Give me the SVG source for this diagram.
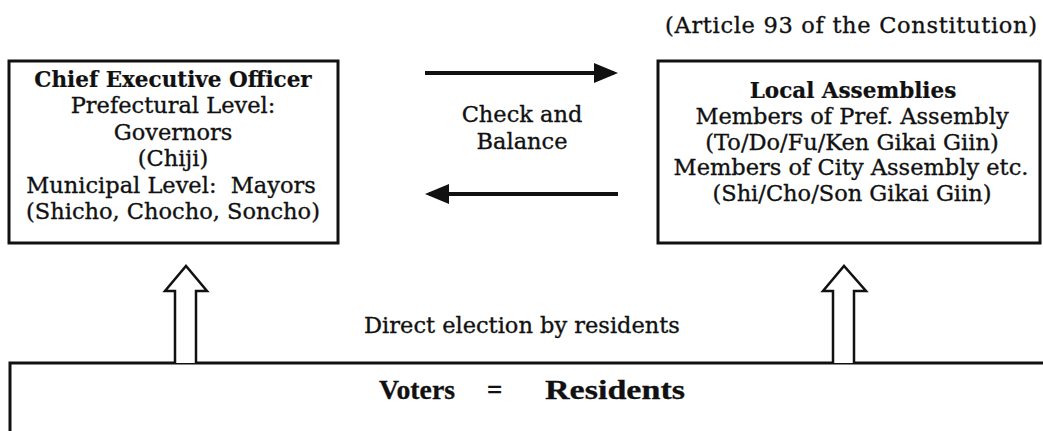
<svg xmlns="http://www.w3.org/2000/svg" width="1043" height="431" viewBox="0 0 1043 431">
<style>
  text { font-family: "DejaVu Serif", "Liberation Serif", serif; font-size: 22.5px; fill: #111; stroke: #111; stroke-width: 0.35; text-anchor: middle; }
  .b { font-weight: bold; font-size: 21.5px; stroke-width: 0.2; }
  .pre { white-space: pre; }
  .box { fill: #fff; stroke: #111; stroke-width: 3; }
  .line { stroke: #111; stroke-width: 4; fill: none; }
  .hollow { fill: #fff; stroke: #111; stroke-width: 2.5; stroke-linejoin: miter; }
  .vr { font-family: "Liberation Serif", "DejaVu Serif", serif; font-weight: bold; font-size: 27px; text-anchor: start; stroke-width: 0.3; }
</style>
<defs>
  <marker id="ah" markerWidth="6" markerHeight="5" refX="5" refY="2.5" orient="auto" markerUnits="strokeWidth">
    <path d="M0,0 L6,2.5 L0,5 Z" fill="#111"/>
  </marker>
</defs>
<rect width="1043" height="431" fill="#fff"/>
<text x="851" y="33" textLength="372" lengthAdjust="spacing">(Article 93 of the Constitution)</text>
<g id="chief">
  <rect class="box" x="9" y="61" width="329" height="182"/>
  <text class="b" x="173" y="87">Chief Executive Officer</text>
  <text x="173" y="113">Prefectural Level:</text>
  <text x="173" y="140">Governors</text>
  <text x="173" y="166">(Chiji)</text>
  <text class="pre" x="171" y="193">Municipal Level:  Mayors</text>
  <text x="173" y="219">(Shicho, Chocho, Soncho)</text>
</g>
<g id="assemblies">
  <rect class="box" x="658" y="61" width="382" height="182"/>
  <text class="b" x="853" y="98">Local Assemblies</text>
  <text x="852" y="124">Members of Pref. Assembly</text>
  <text x="852" y="150">(To/Do/Fu/Ken Gikai Giin)</text>
  <text x="851" y="175">Members of City Assembly etc.</text>
  <text x="852" y="201">(Shi/Cho/Son Gikai Giin)</text>
</g>
<g id="voters">
  <rect class="box" x="10" y="363" width="1040" height="80"/>
  <text class="vr" x="379" y="399" textLength="76" lengthAdjust="spacingAndGlyphs">Voters</text>
  <text class="vr" x="487" y="399">=</text>
  <text class="vr" x="545" y="399" textLength="140" lengthAdjust="spacingAndGlyphs">Residents</text>
</g>
<g id="connectors">
  <line class="line" x1="425" y1="73" x2="614" y2="73" marker-end="url(#ah)"/>
  <line class="line" x1="618" y1="194" x2="429" y2="194" marker-end="url(#ah)"/>
  <text x="522" y="122">Check and</text>
  <text x="522" y="149">Balance</text>
  <path class="hollow" d="M175,363 L175,291 L165,291 L186,266 L207,291 L196,291 L196,363"/>
  <path class="hollow" d="M833,363 L833,291 L823,291 L844,266 L866,291 L854,291 L854,363"/>
  <text x="522" y="333">Direct election by residents</text>
</g>
</svg>
